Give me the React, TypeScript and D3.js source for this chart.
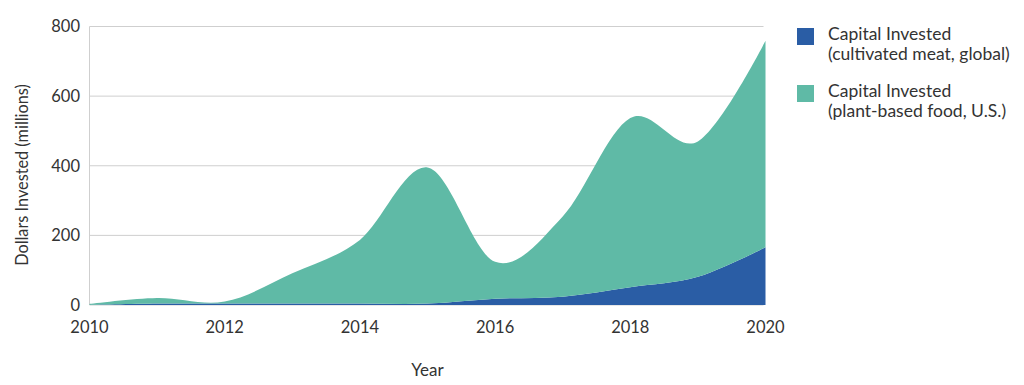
import React from "react";
import * as d3 from "d3";

const years = [2010, 2011, 2012, 2013, 2014, 2015, 2016, 2017, 2018, 2019, 2020];
const cultivated = [0, 4, 4, 4, 4, 4, 18, 24, 51, 81, 166];
const plantBased = [3, 16, 6, 87, 183, 391, 106, 230, 486, 389, 593];
const yTicks = [0, 200, 400, 600, 800];
const xTicks = [2010, 2012, 2014, 2016, 2018, 2020];
const seriesKeys = ["cultivated", "plant"];
const seriesNames = [
  ["Capital Invested", "(cultivated meat, global)"],
  ["Capital Invested", "(plant-based food, U.S.)"],
];
const colors = ["#2a5da5", "#5fbaa6"];

const W = 1024;
const H = 385;
const margin = { left: 89.5, right: 258.5, top: 26.5, bottom: 80 };

const App: React.FC = () => {
  const x = d3
    .scaleLinear()
    .domain([2010, 2020])
    .range([margin.left, W - margin.right]);
  const y = d3
    .scaleLinear()
    .domain([0, 800])
    .range([H - margin.bottom, margin.top]);

  const rows = years.map((yr, i) => ({
    year: yr,
    cultivated: cultivated[i],
    plant: plantBased[i],
  }));
  const stack = d3.stack<any>().keys(seriesKeys)(rows);
  const area = d3
    .area<any>()
    .x((d) => x(d.data.year))
    .y0((d) => y(d[0]))
    .y1((d) => y(d[1]))
    .curve(d3.curveCardinal);

  const font = "Lato, 'Open Sans', sans-serif";
  const textColor = "#333";

  return (
    <svg
      width={W}
      height={H}
      style={{ position: "absolute", left: 0, top: 0, background: "#fff" }}
      fontFamily={font}
    >
      {/* grid */}
      {yTicks.map((t) => (
        <line
          key={t}
          x1={x(2010)}
          x2={x(2020) - 2}
          y1={y(t)}
          y2={y(t)}
          stroke="#cfcfcf"
          strokeWidth={1}
        />
      ))}
      <line
        x1={x(2010)}
        x2={x(2010)}
        y1={y(800)}
        y2={y(0)}
        stroke="#cfcfcf"
        strokeWidth={1}
      />

      {/* areas, plant-based on top of cultivated */}
      {stack.map((s, i) => (
        <path key={s.key} d={area(s) || ""} fill={colors[i]} />
      ))}

      {/* y tick labels */}
      {yTicks.map((t) => (
        <text
          key={t}
          x={80}
          y={y(t)}
          dy="0.35em"
          textAnchor="end"
          fontSize={16.5}
          fill={textColor}
        >
          {t}
        </text>
      ))}

      {/* x tick labels */}
      {xTicks.map((t) => (
        <text
          key={t}
          x={x(t)}
          y={327}
          dy="0.35em"
          textAnchor="middle"
          fontSize={16.5}
          fill={textColor}
        >
          {t}
        </text>
      ))}

      {/* axis titles */}
      <text
        transform={`translate(22,${175}) rotate(-90)`}
        dy="0.35em"
        textAnchor="middle"
        fontSize={16.3}
        fill={textColor}
      >
        Dollars Invested (millions)
      </text>
      <text
        x={(x(2010) + x(2020)) / 2}
        y={370}
        dy="0.35em"
        textAnchor="middle"
        fontSize={17}
        fill={textColor}
      >
        Year
      </text>

      {/* legend */}
      {seriesNames.map((lines, i) => (
        <g key={i} transform={`translate(797,${28 + i * 57})`}>
          <rect width={17} height={17} fill={colors[i]} />
          {lines.map((ln, j) => (
            <text
              key={j}
              x={31}
              y={5.5 + j * 20}
              dy="0.35em"
              fontSize={17.5}
              fill={textColor}
            >
              {ln}
            </text>
          ))}
        </g>
      ))}
    </svg>
  );
};

export default App;
